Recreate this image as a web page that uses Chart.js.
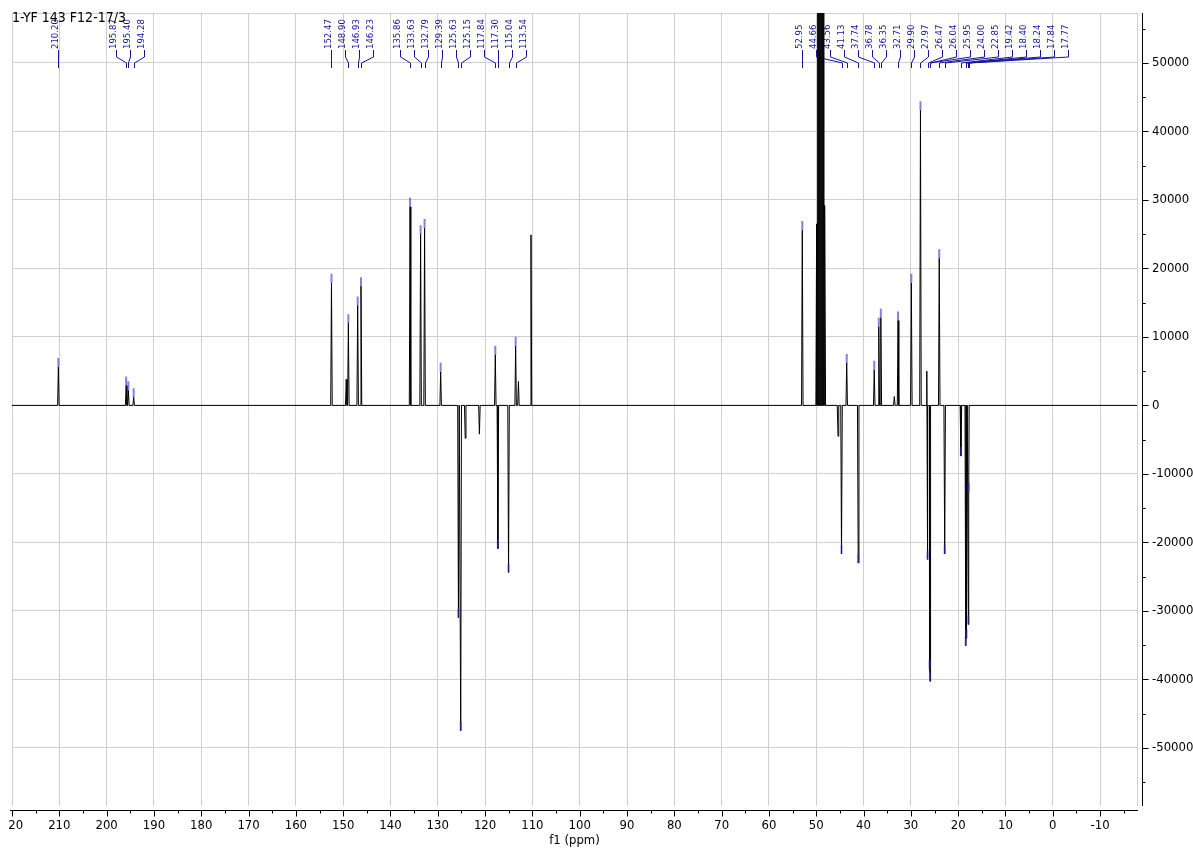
<!DOCTYPE html>
<html>
<head>
<meta charset="utf-8">
<script src="https://cdn.jsdelivr.net/npm/chart.js@4.4.1/dist/chart.umd.min.js"></script>
<style>
  html, body { margin: 0; padding: 0; background: #fff; }
</style>
</head>
<body>
<canvas id="spectrum" width="1193" height="850"></canvas>
<script>
// sample name, top left of the plot
const sampleTitle = '1-YF 143 F12-17/3';

// picked peaks (ppm) and intensities
const pickedShifts = [210.20, 195.87, 195.40, 194.28, 152.47, 148.90, 146.93, 146.23, 135.86, 133.63,
    132.79, 129.39, 125.63, 125.15, 117.84, 117.30, 115.04, 113.54, 52.95, 44.66,
    43.56, 41.13, 37.74, 36.78, 36.35, 32.71, 29.90, 27.97, 26.47, 26.04,
    25.95, 24.00, 22.85, 19.42, 18.40, 18.24, 17.84, 17.77];
const pickedHeights = [5600, 2900, 2200, 1200, 17900, 12000, 14600, 17400, 29000, 25000,
    25900, 4900, -31000, -47500, 7400, -20900, -24400, 8700, 25600, -21700,
    6200, -23000, 5200, 11500, 12800, 12400, 17900, 43100, -22500, -38500,
    -40300, 21500, -21700, -7400, -35100, -34000, -32000, -12600];

// peaks that were not picked
const otherShifts = [149.35, 124.20, 121.20, 112.95, 110.30, 45.40, 33.50, 26.63];
const otherHeights = [3800, -4800, -4200, 3500, 24900, -4500, 1300, 5000];

// solvent multiplet, runs off scale
const solventShifts = [49.92, 49.70, 49.49, 49.27, 49.06, 48.84, 48.63, 48.41, 48.19];
const solventHeights = [26500, 150000, 150000, 150000, 150000, 150000, 150000, 150000, 29200];

// axis ticks
const xTickValues = [220, 210, 200, 190, 180, 170, 160, 150, 140, 130, 120, 110, 100, 90, 80, 70, 60, 50, 40, 30, 20, 10, 0, -10];
const yTickValues = [50000, 40000, 30000, 20000, 10000, 0, -10000, -20000, -30000, -40000, -50000];

const ppmMax = 220, ppmMin = -17.8;
const intMax = 57300, intMin = -58500;

const axisFont = '13px "DejaVu Sans Condensed"';
const labelBlue = '#14149c';

// each line is drawn as a thin spike from the baseline
function buildTrace() {
    const w = 0.16;
    const pts = [{ x: ppmMax, y: 0 }, { x: ppmMin, y: 0 }];
    const add = (shifts, heights) => shifts.forEach((p, i) => {
        pts.push({ x: p + w, y: 0 }, { x: p, y: heights[i] }, { x: p - w, y: 0 });
    });
    add(pickedShifts, pickedHeights);
    add(otherShifts, otherHeights);
    add(solventShifts, solventHeights);
    pts.sort((a, b) => b.x - a.x);
    return pts;
}

// spread crowded peak labels: push right, then pull each run back
// by half its overshoot, without running into the labels before it
function layoutLabels(xs) {
    const gap = 14;
    const pos = [];
    xs.forEach((x, i) => pos.push(i ? Math.max(x, pos[i - 1] + gap) : x));
    let start = 0;
    for (let i = 1; i <= xs.length; i++) {
        if (i === xs.length || pos[i] > pos[i - 1] + gap + 0.01) {
            const end = i - 1;
            if (end > start) {
                let shift = (pos[end] - xs[end]) / 2;
                if (start > 0) shift = Math.min(shift, pos[start] - (pos[start - 1] + gap));
                for (let k = start; k <= end; k++) pos[k] -= shift;
            }
            start = i;
        }
    }
    return pos;
}

const decorations = {
    id: 'decorations',
    // labels go under the trace, like the solvent column covering them
    beforeDatasetsDraw(chart) {
        const { ctx, chartArea: a } = chart;
        const x = chart.scales.x;
        ctx.save();

        const order = pickedShifts.map((p, i) => i).sort((i, j) => pickedShifts[j] - pickedShifts[i]);
        const peakPx = order.map(i => x.getPixelForValue(pickedShifts[i]));
        const labelPx = layoutLabels(peakPx);
        ctx.strokeStyle = labelBlue;
        ctx.fillStyle = labelBlue;
        ctx.lineWidth = 1;
        ctx.font = '9.5px "DejaVu Sans Condensed"';
        ctx.beginPath();
        order.forEach((idx, k) => {
            const L = Math.round(labelPx[k]) + 0.5;
            const P = Math.round(peakPx[k]) + 0.5;
            ctx.moveTo(L, a.top + 37);
            ctx.lineTo(L, a.top + 44);
            ctx.lineTo(P, a.top + 50);
            ctx.lineTo(P, a.top + 55);
            ctx.save();
            ctx.translate(L - 1, a.top + 36);
            ctx.rotate(-Math.PI / 2);
            ctx.fillText(pickedShifts[idx].toFixed(2), 0, 0);
            ctx.restore();
        });
        ctx.stroke();
        ctx.restore();
    },
    afterDraw(chart) {
        const { ctx, chartArea: a } = chart;
        const x = chart.scales.x, y = chart.scales.y;
        ctx.save();

        // x axis line and ticks
        const axisY = a.bottom + 4.5;
        ctx.strokeStyle = '#000';
        ctx.lineWidth = 1;
        ctx.beginPath();
        ctx.moveTo(a.left - 2, axisY);
        ctx.lineTo(a.right + 1, axisY);
        xTickValues.forEach(v => {
            const px = Math.round(x.getPixelForValue(v)) + 0.5;
            ctx.moveTo(px, axisY);
            ctx.lineTo(px, axisY + 6);
            if (v - 5 > ppmMin) {
                const pm = Math.round(x.getPixelForValue(v - 5)) + 0.5;
                ctx.moveTo(pm, axisY);
                ctx.lineTo(pm, axisY + 3);
            }
        });
        // y axis line and ticks
        const axisX = a.right + 5.5;
        ctx.moveTo(axisX, a.top);
        ctx.lineTo(axisX, a.bottom);
        yTickValues.forEach(v => {
            const py = Math.round(y.getPixelForValue(v)) + 0.5;
            ctx.moveTo(axisX, py);
            ctx.lineTo(axisX + 6, py);
            [v + 5000, v - 5000].forEach(m => {
                if (m % 10000 !== 0 && m < intMax && m > intMin) {
                    const pm = Math.round(y.getPixelForValue(m)) + 0.5;
                    ctx.moveTo(axisX, pm);
                    ctx.lineTo(axisX + 3, pm);
                }
            });
        });
        ctx.stroke();

        // x tick labels (leftmost one is cut by the view edge)
        ctx.save();
        ctx.beginPath();
        ctx.rect(8.5, a.bottom, chart.width, chart.height);
        ctx.clip();
        ctx.fillStyle = '#000';
        ctx.font = axisFont;
        ctx.textAlign = 'center';
        ctx.textBaseline = 'middle';
        xTickValues.forEach(v => ctx.fillText(String(v), x.getPixelForValue(v), a.bottom + 20));
        ctx.restore();

        ctx.fillStyle = '#000';
        ctx.font = axisFont;
        ctx.textAlign = 'center';
        ctx.textBaseline = 'middle';
        ctx.fillText('f1 (ppm)', (a.left + a.right) / 2, a.bottom + 35);

        // sample title
        ctx.font = '14px "DejaVu Sans Condensed"';
        ctx.textAlign = 'left';
        ctx.textBaseline = 'alphabetic';
        ctx.fillText(sampleTitle, a.left, a.top + 9);

        // peak pick marks
        ctx.strokeStyle = 'rgba(45, 45, 210, 0.6)';
        ctx.lineWidth = 2;
        ctx.beginPath();
        pickedShifts.forEach((p, i) => {
            const px = x.getPixelForValue(p);
            const py = y.getPixelForValue(pickedHeights[i]);
            ctx.moveTo(px, py);
            ctx.lineTo(px, py - 9);
        });
        ctx.stroke();

        ctx.restore();
    }
};

new Chart(document.getElementById('spectrum'), {
    type: 'line',
    data: {
        datasets: [{
            data: buildTrace(),
            borderColor: '#000',
            borderWidth: 1,
            pointRadius: 0,
            tension: 0,
            fill: false
        }]
    },
    options: {
        responsive: false,
        animation: false,
        events: [],
        layout: { padding: { left: 12, top: 13, right: 0, bottom: 44 } },
        plugins: { legend: { display: false }, tooltip: { enabled: false } },
        scales: {
            x: {
                type: 'linear',
                reverse: true,
                min: ppmMin,
                max: ppmMax,
                afterBuildTicks: s => { s.ticks = xTickValues.concat([ppmMin]).map(v => ({ value: v })); },
                ticks: { display: false },
                grid: { color: '#cfcfcf', lineWidth: 1, drawTicks: false },
                border: { display: false },
                afterFit: s => { s.height = 0; s.paddingLeft = 0; s.paddingRight = 0; }
            },
            y: {
                position: 'right',
                min: intMin,
                max: intMax,
                afterBuildTicks: s => { s.ticks = yTickValues.concat([intMax]).map(v => ({ value: v })); },
                ticks: {
                    autoSkip: false,
                    padding: 15,
                    color: '#000',
                    font: { family: 'DejaVu Sans Condensed', size: 13 },
                    callback: v => (v === intMax ? '' : String(v))
                },
                grid: { color: '#cfcfcf', lineWidth: 1, drawTicks: false },
                border: { display: false },
                afterFit: s => { s.width = 56; s.paddingTop = 0; s.paddingBottom = 0; }
            }
        }
    },
    plugins: [decorations]
});
</script>
</body>
</html>
